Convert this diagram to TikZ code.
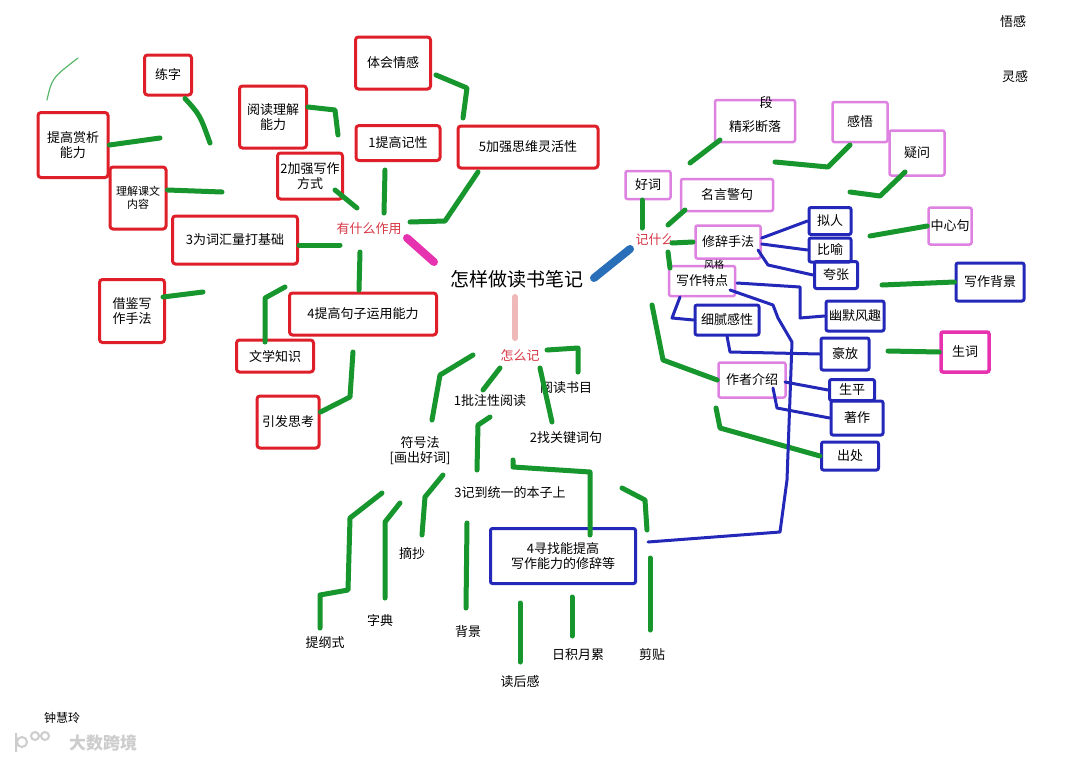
\documentclass[tikz,border=0pt]{standalone}
\usepackage{fontspec}
\newfontfamily\cjk{Noto Sans CJK SC}
\definecolor{redc}{RGB}{222,30,40}
\definecolor{greenc}{RGB}{22,150,45}
\definecolor{bluec}{RGB}{35,40,185}
\definecolor{pinkc}{RGB}{222,130,225}
\definecolor{magc}{RGB}{230,50,175}
\definecolor{hubc}{RGB}{215,55,70}
\definecolor{skyc}{RGB}{40,110,185}
\definecolor{lpink}{RGB}{240,185,185}
\definecolor{wm}{RGB}{205,205,205}
\tikzset{
 lbl/.style={font=\cjk\fontsize{13}{15}\selectfont, align=center, inner sep=0pt, text=black},
 rbox/.style={lbl, draw=redc, line width=3pt, rounded corners=3pt},
 pbox/.style={lbl, draw=pinkc, line width=2.5pt, rounded corners=2pt},
 bbox/.style={lbl, draw=bluec, line width=3pt, rounded corners=2pt},
 mbox/.style={lbl, draw=magc, line width=3.5pt, rounded corners=2pt},
 hub/.style={font=\cjk\fontsize{13}{15}\selectfont, text=hubc, inner sep=1pt},
 gline/.style={draw=greenc, line width=5pt, line cap=round, line join=round},
 bline/.style={draw=bluec, line width=3pt, line cap=round, line join=round},
 small/.style={lbl, font=\cjk\fontsize{11}{13}\selectfont},
}
\begin{document}
\begin{tikzpicture}[x=1pt,y=-1pt]
\useasboundingbox[fill=white] (0,0) rectangle (1080,764);

% ---------- centre and hubs
\node[lbl, font=\cjk\fontsize{19}{21}\selectfont] (center) at (517,279) {怎样做读书笔记};
\node[hub] (zuoyong) at (369,229) {有什么作用};
\node[hub] (jishenme) at (655,240) {记什么};
\node[hub] (zenmeji) at (520,355) {怎么记};
\draw[magc, line width=8pt, line cap=round] (407,238) -- (434,262);
\draw[skyc, line width=8pt, line cap=round] (594,278) -- (630,249);
\draw[lpink, line width=6pt, line cap=round] (515,297) -- (515,338);

% ---------- left group (red boxes)
\node[rbox, minimum width=47pt, minimum height=40pt] (lianzi) at (168,75) {练字};
\node[rbox, minimum width=70pt, minimum height=65pt] (shangxi) at (73,145) {提高赏析\\能力};
\node[rbox, small, minimum width=56pt, minimum height=62pt] (lijie) at (138,198) {理解课文\\内容};
\node[rbox, minimum width=125pt, minimum height=48pt] (cihui) at (235,240) {3为词汇量打基础};
\node[rbox, minimum width=65pt, minimum height=63pt] (jiejian) at (132,311) {借鉴写\\作手法};
\node[rbox, minimum width=147pt, minimum height=42pt] (juzi) at (363,314) {4提高句子运用能力};
\node[rbox, minimum width=77pt, minimum height=32pt] (wenxue) at (275,356) {文学知识};
\node[rbox, minimum width=62pt, minimum height=52pt] (sikao) at (288,422) {引发思考};
\node[rbox, minimum width=65pt, minimum height=46pt] (xiezuo) at (310,176) {2加强写作\\方式};
\node[rbox, minimum width=67pt, minimum height=62pt] (yuedu) at (273,117) {阅读理解\\能力};
\node[rbox, minimum width=84pt, minimum height=35pt] (jixing) at (398,143) {1提高记性};
\node[rbox, minimum width=75pt, minimum height=52pt] (qinggan) at (393,63) {体会情感};
\node[rbox, minimum width=140pt, minimum height=42pt] (siwei) at (528,147) {5加强思维灵活性};

\draw[gline] (lianzi.south east) ++(-8,2) .. controls (200,115) .. (210,143);
\draw[gline] (shangxi.east) -- (160,138);
\draw[gline] (lijie.east) ++(0,-8) -- (222,192);
\draw[gline] (cihui.east) ++(0,5) -- (340,245);
\draw[gline] (jiejian.east) ++(-3,-14) -- (203,292);
\draw[gline] (360,252) -- (359,290);
\draw[gline] (265,342) -- (265,298) -- (285,287);
\draw[gline] (sikao.east) ++(0,-10) -- (350,397) -- (353,352);
\draw[gline] (357,208) -- (335,190);
\draw[gline] (yuedu.east) ++(0,-10) -- (335,110) -- (338,135);
\draw[gline] (384,213) -- (385,170);
\draw[gline] (qinggan.east) ++(4,12) -- (467,88) -- (463,118);
\draw[gline] (410,222) -- (445,221) -- (478,172);

% faint mark top left
\draw[greenc!70, line width=1.2pt, line cap=round] (47,100) .. controls (52,78) .. (78,58);

% ---------- right group
\node[pbox, minimum width=45pt, minimum height=28pt] (haoci) at (648,185) {好词};
\node[pbox, minimum width=92pt, minimum height=32pt] (mingyan) at (727,195) {名言警句};
\node[pbox, minimum width=80pt, minimum height=42pt] (jingcai) at (755,121) {};
\node[lbl] (jingcaiT) at (755,127) {精彩断落};
\node[lbl] (duan) at (766,103) {段};
\node[pbox, minimum width=55pt, minimum height=40pt] (ganwu) at (860,122) {感悟};
\node[pbox, minimum width=55pt, minimum height=45pt] (yiwen) at (917,153) {疑问};
\node[pbox, minimum width=65pt, minimum height=33pt] (xiuci) at (728,242) {修辞手法};
\node[pbox, minimum width=66pt, minimum height=30pt] (tedian) at (702,281) {写作特点};
\node[lbl, font=\cjk\fontsize{10}{12}\selectfont] (fengge) at (714,265) {风格};
\node[bbox, minimum width=42pt, minimum height=27pt] (niren) at (830,221) {拟人};
\node[bbox, minimum width=42pt, minimum height=24pt] (biyu) at (830,250) {比喻};
\node[bbox, minimum width=43pt, minimum height=27pt] (kuazhang) at (836,275) {夸张};
\node[pbox, minimum width=43pt, minimum height=37pt] (zhongxin) at (950,226) {中心句};
\node[bbox, minimum width=68pt, minimum height=38pt] (beijing) at (990,282) {写作背景};
\node[bbox, minimum width=58pt, minimum height=30pt] (youmo) at (855,316) {幽默风趣};
\node[bbox, minimum width=64pt, minimum height=30pt] (xini) at (727,320) {细腻感性};
\node[bbox, minimum width=48pt, minimum height=32pt] (haofang) at (845,354) {豪放};
\node[mbox, minimum width=48pt, minimum height=40pt] (shengci) at (965,352) {生词};
\node[pbox, minimum width=67pt, minimum height=35pt] (zuozhe) at (752,380) {作者介绍};
\node[bbox, minimum width=45pt, minimum height=21pt] (shengping) at (852,390) {生平};
\node[bbox, minimum width=52pt, minimum height=34pt] (zhuzuo) at (857,418) {著作};
\node[bbox, minimum width=57pt, minimum height=28pt] (chuchu) at (850,456) {出处};

% ---------- bottom group nodes
\node[lbl] (pizhu) at (490,401) {1批注性阅读};
\node[lbl] (shumu) at (566,388) {阅读书目};
\node[lbl] (guanjian) at (566,438) {2找关键词句};
\node[lbl] (fuhao) at (420,451) {符号法\\{[}画出好词{]}};
\node[lbl] (benzi) at (510,493) {3记到统一的本子上};
\node[bbox, minimum width=145pt, minimum height=55pt] (xiuci4) at (563,556) {4寻找能提高\\写作能力的修辞等};
\coordinate (x4in) at (648,542);
\node[lbl] (tigang) at (325,643) {提纲式};
\node[lbl] (zidian) at (380,621) {字典};
\node[lbl] (zhaichao) at (412,553) {摘抄};
\node[lbl] (bj) at (468,632) {背景};
\node[lbl] (duhou) at (520,682) {读后感};
\node[lbl] (rijie) at (578,655) {日积月累};
\node[lbl] (jiantie) at (652,655) {剪贴};

\draw[gline] (642,200) -- (642,228);
\draw[gline] (668,225) -- (685,210);
\draw[gline] (690,163) -- (720,140);
\draw[gline] (775,162) -- (828,167) -- (850,145);
\draw[gline] (850,192) -- (880,196) -- (905,172);
\draw[gline] (672,243) -- (693,242);
\draw[gline] (668,252) -- (670,268);
\draw[gline] (870,236) -- (zhongxin.west);
\draw[gline] (882,285) -- (beijing.west);
\draw[gline] (888,351) -- (shengci.west);
\draw[gline] (652,305) -- (663,360) -- (zuozhe.west);
\draw[gline] (716,408) -- (720,428) -- (chuchu.west);

\draw[bline] (xiuci.east) ++(0,-4) -- (niren.west);
\draw[bline] (xiuci.east) ++(0,2) -- (biyu.west);
\draw[bline] (758,250) -- (768,265) -- (kuazhang.west);
\draw[bline] (737,283) -- (800,287) -- (800,318) -- (youmo.west);
\draw[bline] (730,290) -- (773,305) -- (778,318) -- (792,342) -- (787,480) -- (780,532) -- (x4in);
\draw[bline] (680,297) -- (672,318) -- (xini.west);
\draw[bline] (727,336) -- (730,352) -- (haofang.west);
\draw[bline] (785,382) -- (shengping.west);
\draw[bline] (773,388) -- (777,408) -- (zhuzuo.west);

% ---------- bottom connectors
\draw[gline] (500,368) -- (483,390);
\draw[gline] (547,350) -- (578,348) -- (578,372);
\draw[gline] (540,368) -- (552,422);
\draw[gline] (473,355) -- (440,375) -- (432,420);
\draw[gline] (490,417) -- (478,425) -- (477,470);
\draw[gline] (513,460) -- (513,467) -- (590,472) -- (590,535);
\draw[gline] (382,493) -- (350,518) -- (348,590) -- (320,595) -- (320,628);
\draw[gline] (400,503) -- (385,522) -- (385,598);
\draw[gline] (443,475) -- (425,497) -- (422,535);
\draw[gline] (467,523) -- (466,608);
\draw[gline] (520,603) -- (520,662);
\draw[gline] (572,597) -- (572,636);
\draw[gline] (622,488) -- (645,500) -- (647,530);
\draw[gline] (650,558) -- (650,630);

% ---------- corner texts
\node[lbl, font=\cjk\fontsize{13}{15}\selectfont] (t1) at (1013,22) {悟感};
\node[lbl, font=\cjk\fontsize{13}{15}\selectfont] (t2) at (1015,77) {灵感};
\node[lbl, font=\cjk\fontsize{12}{14}\selectfont] (sig) at (62,718) {钟慧玲};
\node[font=\cjk\bfseries\fontsize{17}{19}\selectfont, text=wm, inner sep=0pt] (wmark) at (103,743) {大数跨境};
\draw[wm, line width=2pt] (16,733) -- (16,752) (22,742) circle (5) (35,736) circle (4) (45,736) circle (4);
\end{tikzpicture}
\end{document}
